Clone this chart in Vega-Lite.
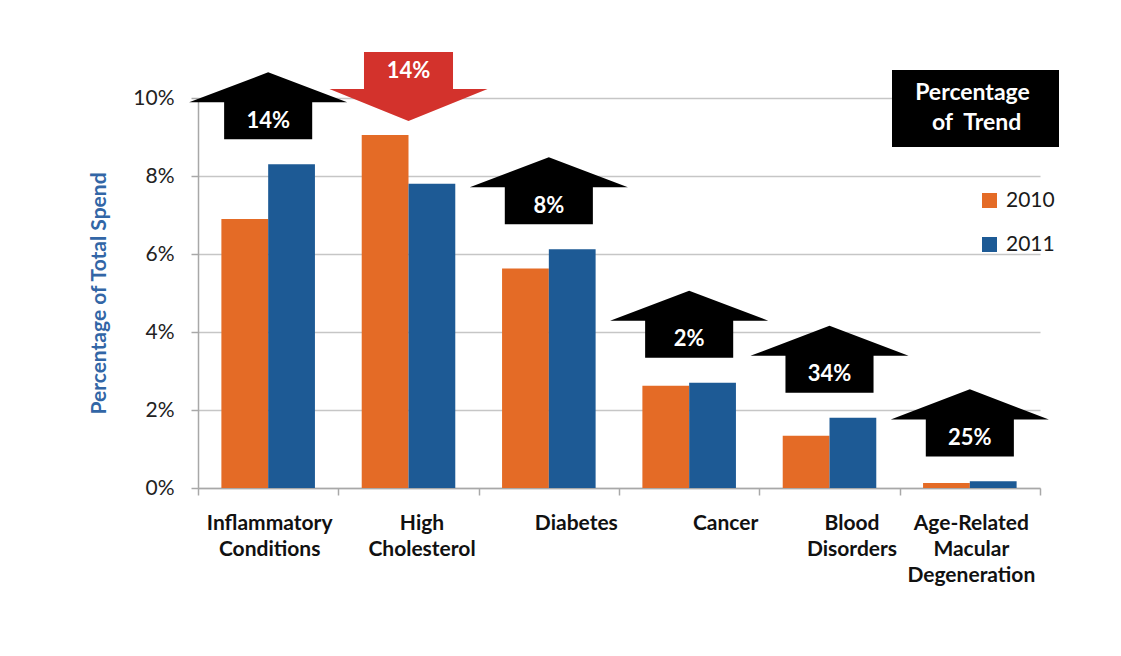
{
  "$schema": "https://vega.github.io/schema/vega-lite/v6.json",
  "width": 842,
  "height": 390,
  "autosize": {"type": "none"},
  "padding": {"left": 198, "top": 98, "right": 81, "bottom": 168},
  "background": "white",
  "config": {
    "view": {"stroke": null},
    "font": "Lato",
    "axisY": {
      "titleFont": "Lato",
      "titleFontSize": 21,
      "titleFontWeight": "bold",
      "titleColor": "#3266a6",
      "titlePadding": 23,
      "labelFont": "Lato",
      "labelFontSize": 21,
      "labelColor": "#222222",
      "labelPadding": 17,
      "tickSize": 7,
      "tickColor": "#a8a8a8",
      "tickWidth": 1.5,
      "domainColor": "#a8a8a8",
      "domainWidth": 1.5,
      "grid": true,
      "gridColor": "#c6c6c6",
      "gridWidth": 1.5
    }
  },
  "data": {
    "values": [
      {"category": "Inflammatory Conditions", "2010": 0.069, "2011": 0.083, "change": "14%", "direction": "up"},
      {"category": "High Cholesterol", "2010": 0.0905, "2011": 0.078, "change": "14%", "direction": "down"},
      {"category": "Diabetes", "2010": 0.0563, "2011": 0.0612, "change": "8%", "direction": "up"},
      {"category": "Cancer", "2010": 0.0262, "2011": 0.027, "change": "2%", "direction": "up"},
      {"category": "Blood Disorders", "2010": 0.0134, "2011": 0.018, "change": "34%", "direction": "up"},
      {"category": "Age-Related Macular Degeneration", "2010": 0.0013, "2011": 0.0017, "change": "25%", "direction": "up"}
    ]
  },
  "transform": [
    {"calculate": "max(datum['2010'], datum['2011'])", "as": "top"}
  ],
  "encoding": {
    "x": {
      "field": "category",
      "type": "nominal",
      "sort": null,
      "scale": {"paddingInner": 0, "paddingOuter": 0},
      "axis": {
        "title": null,
        "labelAngle": 0,
        "labelFont": "Lato",
        "labelFontSize": 21,
        "labelFontWeight": "bold",
        "labelColor": "#111111",
        "labelLineHeight": 26,
        "labelBaseline": "top",
        "labelPadding": 17,
        "labelLimit": 300,
        "labelExpr": "datum.label == 'Age-Related Macular Degeneration' ? ['Age-Related', 'Macular', 'Degeneration'] : (datum.label == 'Diabetes' || datum.label == 'Cancer') ? datum.label : split(datum.label, ' ')",
        "labelOffset": {
          "condition": [
            {"test": "datum.value == 'High Cholesterol'", "value": 13},
            {"test": "datum.value == 'Diabetes'", "value": 27},
            {"test": "datum.value == 'Cancer'", "value": 36},
            {"test": "datum.value == 'Blood Disorders'", "value": 22}
          ],
          "value": 1
        },
        "tickBand": "extent",
        "tickSize": 7,
        "tickColor": "#a8a8a8",
        "tickWidth": 1.5,
        "domainColor": "#a8a8a8",
        "domainWidth": 1.5
      }
    }
  },
  "layer": [
    {
      "transform": [{"fold": ["2010", "2011"], "as": ["year", "value"]}],
      "mark": {"type": "bar"},
      "encoding": {
        "xOffset": {"field": "year", "type": "nominal", "scale": {"paddingInner": 0, "paddingOuter": 0.5}},
        "y": {
          "field": "value",
          "type": "quantitative",
          "title": "Percentage of Total Spend",
          "scale": {"domain": [0, 0.1], "nice": false},
          "axis": {"values": [0, 0.02, 0.04, 0.06, 0.08, 0.1], "format": ".0%"}
        },
        "color": {
          "field": "year",
          "type": "nominal",
          "scale": {"domain": ["2010", "2011"], "range": ["#e46b26", "#1d5a95"]},
          "legend": {
            "orient": "none",
            "legendX": 781,
            "legendY": 92,
            "title": null,
            "padding": 0,
            "symbolType": "square",
            "symbolSize": 225,
            "symbolStrokeWidth": 0,
            "labelFont": "Lato",
            "labelFontSize": 21,
            "labelColor": "#1a1a1a",
            "labelOffset": 6,
            "rowPadding": 22
          }
        }
      }
    },
    {
      "transform": [{"filter": "datum.direction == 'up'"}],
      "mark": {
        "type": "point",
        "shape": "M0,-0.424L1,-0.044L0.557,-0.044L0.557,0.424L-0.557,0.424L-0.557,-0.044L-1,-0.044Z",
        "filled": true,
        "opacity": 1,
        "strokeWidth": 0,
        "size": 25000,
        "yOffset": -58.5
      },
      "encoding": {
        "y": {"field": "top", "type": "quantitative", "title": "Percentage of Total Spend", "axis": {"values": [0, 0.02, 0.04, 0.06, 0.08, 0.1], "format": ".0%"}},
        "fill": {
          "field": "direction",
          "type": "nominal",
          "scale": {"domain": ["up", "down"], "range": ["#000000", "#d3322c"]},
          "legend": {
            "values": [],
            "orient": "none",
            "legendX": 694,
            "legendY": -28,
            "fillColor": "#000000",
            "padding": 12,
            "title": ["\u200b\u00a0\u00a0Percentage\u00a0\u00a0\u00a0\u200b", "\u200b\u00a0\u00a0\u00a0\u00a0\u00a0of\u00a0\u00a0Trend"],
            "titleColor": "#ffffff",
            "titleFont": "Lato",
            "titleFontSize": 23,
            "titleFontWeight": "bold",
            "titleLineHeight": 30,
            "titleAlign": "left",
            "titleAnchor": "start",
            "titlePadding": 0
          }
        }
      }
    },
    {
      "transform": [{"filter": "datum.direction == 'down'"}],
      "mark": {
        "type": "point",
        "shape": "M-0.563,-0.437L0.563,-0.437L0.563,0.032L1,0.032L0,0.437L-1,0.032L-0.563,0.032Z",
        "filled": true,
        "opacity": 1,
        "strokeWidth": 0,
        "size": 25000,
        "yOffset": -48.5
      },
      "encoding": {
        "y": {"field": "top", "type": "quantitative", "title": "Percentage of Total Spend", "axis": {"values": [0, 0.02, 0.04, 0.06, 0.08, 0.1], "format": ".0%"}},
        "fill": {
          "field": "direction",
          "type": "nominal",
          "scale": {"domain": ["up", "down"], "range": ["#000000", "#d3322c"]},
          "legend": {
            "values": [],
            "orient": "none",
            "legendX": 694,
            "legendY": -28,
            "fillColor": "#000000",
            "padding": 12,
            "title": ["\u200b\u00a0\u00a0Percentage\u00a0\u00a0\u00a0\u200b", "\u200b\u00a0\u00a0\u00a0\u00a0\u00a0of\u00a0\u00a0Trend"],
            "titleColor": "#ffffff",
            "titleFont": "Lato",
            "titleFontSize": 23,
            "titleFontWeight": "bold",
            "titleLineHeight": 30,
            "titleAlign": "left",
            "titleAnchor": "start",
            "titlePadding": 0
          }
        }
      }
    },
    {
      "transform": [{"filter": "datum.direction == 'up'"}],
      "mark": {"type": "text", "color": "#ffffff", "font": "Lato", "fontSize": 22, "fontWeight": "bold", "baseline": "middle", "align": "center", "yOffset": -43.5},
      "encoding": {
        "y": {"field": "top", "type": "quantitative", "title": "Percentage of Total Spend", "axis": {"values": [0, 0.02, 0.04, 0.06, 0.08, 0.1], "format": ".0%"}},
        "text": {"field": "change"}
      }
    },
    {
      "transform": [{"filter": "datum.direction == 'down'"}],
      "mark": {"type": "text", "color": "#ffffff", "font": "Lato", "fontSize": 22, "fontWeight": "bold", "baseline": "middle", "align": "center", "yOffset": -64.5},
      "encoding": {
        "y": {"field": "top", "type": "quantitative", "title": "Percentage of Total Spend", "axis": {"values": [0, 0.02, 0.04, 0.06, 0.08, 0.1], "format": ".0%"}},
        "text": {"field": "change"}
      }
    }
  ]
}
